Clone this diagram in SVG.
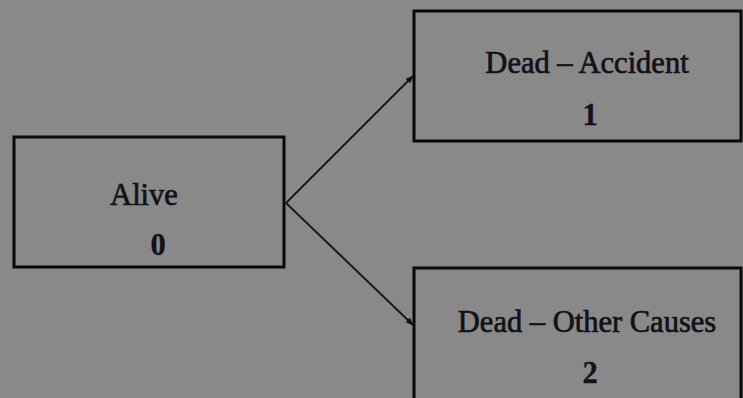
<svg xmlns="http://www.w3.org/2000/svg" width="743" height="398" viewBox="0 0 743 398">
  <style>
    .box { fill: none; stroke: #0a0a0a; stroke-width: 3; }
    .label { font-family: "Liberation Serif", "Times New Roman", serif; font-size: 30.5px; fill: #121218; stroke: #121218; stroke-width: 0.7; text-anchor: middle; }
    .num { font-weight: bold; stroke-width: 0.3; }
    .edge { stroke: #1a1a1a; stroke-width: 2; fill: none; marker-end: url(#head); }
  </style>
  <defs>
    <marker id="head" viewBox="0 0 10 10" refX="9" refY="5" markerWidth="4" markerHeight="4" orient="auto" markerUnits="strokeWidth">
      <path d="M0,1 L10,5 L0,9 z" fill="#111"/>
    </marker>
  </defs>
  <rect width="743" height="398" fill="#898989"/>

  <g id="connectors">
    <line class="edge" x1="286" y1="203" x2="413" y2="76"/>
    <line class="edge" x1="286" y1="203" x2="413" y2="325"/>
  </g>

  <g id="node-alive">
    <rect class="box" x="14" y="137" width="270" height="130"/>
    <text class="label" x="144" y="205">Alive</text>
    <text class="label num" x="158" y="255">0</text>
  </g>

  <g id="node-accident">
    <rect class="box" x="414" y="11" width="327" height="130"/>
    <text class="label" x="587" y="73">Dead – Accident</text>
    <text class="label num" x="590" y="125">1</text>
  </g>

  <g id="node-other">
    <rect class="box" x="414" y="268" width="327" height="140"/>
    <text class="label" x="587" y="332">Dead – Other Causes</text>
    <text class="label num" x="590" y="383">2</text>
  </g>
</svg>
